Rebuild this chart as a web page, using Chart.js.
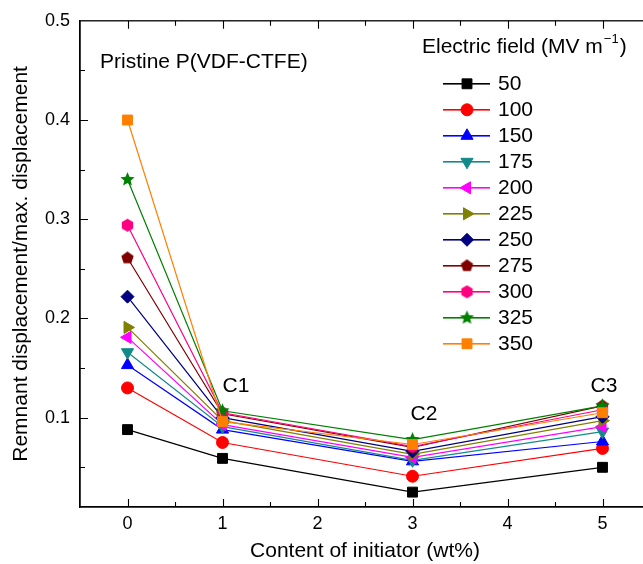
<!DOCTYPE html>
<html>
<head>
<meta charset="utf-8">
<script src="https://cdn.jsdelivr.net/npm/chart.js@4/dist/chart.umd.min.js"></script>
<style>
    html, body { margin: 0; padding: 0; background: #fff; overflow: hidden; }
    #wrap { width: 660px; height: 564px; position: relative; }
</style>
</head>
<body>
<div id="wrap"><canvas id="chart"></canvas></div>
<script>
// initiator content (wt%) and field strengths
const contents = [0, 1, 3, 5];
const fields = ['50', '100', '150', '175', '200', '225', '250', '275', '300', '325', '350'];

// remnant / max displacement, one array per field (MV/m)
const ratio50  = [0.088, 0.059, 0.025, 0.050];
const ratio100 = [0.130, 0.075, 0.041, 0.069];
const ratio150 = [0.153, 0.088, 0.056, 0.076];
const ratio175 = [0.166, 0.091, 0.057, 0.086];
const ratio200 = [0.181, 0.093, 0.060, 0.091];
const ratio225 = [0.191, 0.097, 0.063, 0.097];
const ratio250 = [0.222, 0.100, 0.066, 0.101];
const ratio275 = [0.261, 0.104, 0.070, 0.112];
const ratio300 = [0.294, 0.105, 0.071, 0.108];
const ratio325 = [0.340, 0.107, 0.078, 0.112];
const ratio350 = [0.400, 0.096, 0.073, 0.105];

const xTicks = [0, 1, 2, 3, 4, 5];
const yTicks = [0.1, 0.2, 0.3, 0.4, 0.5];

const FONT = '"Liberation Sans", Arial, Helvetica, sans-serif';
const TEXT = 21;

function makeShape(color, sides, inner, r) {
    const size = Math.ceil(r * 2 + 2);
    const c = document.createElement('canvas');
    c.width = size; c.height = size;
    const g = c.getContext('2d');
    g.fillStyle = color;
    g.beginPath();
    const n = inner ? sides * 2 : sides;
    for (let i = 0; i < n; i++) {
        const a = -Math.PI / 2 + i * 2 * Math.PI / n;
        const rr = inner && i % 2 ? r * inner : r;
        const px = size / 2 + rr * Math.cos(a);
        const py = size / 2 + rr * Math.sin(a);
        if (i === 0) g.moveTo(px, py); else g.lineTo(px, py);
    }
    g.closePath();
    g.fill();
    return c;
}

const styles = [
    { data: ratio50,  color: '#000000', style: 'rect', rot: 0, r: 7 },
    { data: ratio100, color: '#ff0000', style: 'circle', rot: 0, r: 6 },
    { data: ratio150, color: '#0000ff', style: 'triangle', rot: 0, r: 7 },
    { data: ratio175, color: '#138a8a', style: 'triangle', rot: 180, r: 7 },
    { data: ratio200, color: '#ff00ff', style: 'triangle', rot: 270, r: 7 },
    { data: ratio225, color: '#808000', style: 'triangle', rot: 90, r: 7 },
    { data: ratio250, color: '#000080', style: 'rectRot', rot: 0, r: 6.5 },
    { data: ratio275, color: '#800000', style: makeShape('#800000', 5, 0, 6.5), rot: 0, r: 6 },
    { data: ratio300, color: '#ff0080', style: makeShape('#ff0080', 6, 0, 6.5), rot: 0, r: 6 },
    { data: ratio325, color: '#008000', style: makeShape('#008000', 5, 0.45, 7.5), rot: 0, r: 6 },
    { data: ratio350, color: '#ff8000', style: 'rect', rot: 0, r: 7 }
];

const datasets = styles.map((s, i) => ({
    label: fields[i],
    data: contents.map((c, j) => ({ x: c, y: s.data[j] })),
    borderColor: s.color,
    backgroundColor: s.color,
    borderWidth: 1.2,
    pointStyle: s.style,
    pointRotation: s.rot,
    pointRadius: s.r,
    pointBackgroundColor: s.color,
    pointBorderColor: s.color,
    pointBorderWidth: 1,
    tension: 0,
    order: styles.length - i
}));

const framePlugin = {
    id: 'frame',
    afterDraw(chart) {
        const ctx = chart.ctx;
        const a = chart.chartArea;
        const xs = chart.scales.x, ys = chart.scales.y;
        ctx.save();
        ctx.strokeStyle = '#000';
        ctx.lineWidth = 1.3;
        ctx.strokeRect(a.left, a.top, a.right - a.left, a.bottom - a.top);
        ctx.lineWidth = 1.1;
        ctx.beginPath();
        for (let k = 0; k <= 10; k++) {
            const px = Math.round(xs.getPixelForValue(k * 0.5)) + 0.5;
            const len = k % 2 === 0 ? 8 : 5;
            ctx.moveTo(px, a.bottom); ctx.lineTo(px, a.bottom - len);
            ctx.moveTo(px, a.top); ctx.lineTo(px, a.top + len);
        }
        for (let k = 1; k <= 9; k++) {
            const py = Math.round(ys.getPixelForValue(k * 0.05)) + 0.5;
            const len = k % 2 === 0 ? 8 : 5;
            ctx.moveTo(a.left, py); ctx.lineTo(a.left + len, py);
        }
        ctx.stroke();

        // annotations
        ctx.fillStyle = '#000';
        ctx.font = TEXT + 'px ' + FONT;
        ctx.textBaseline = 'middle';
        ctx.textAlign = 'left';
        ctx.fillText('Pristine P(VDF-CTFE)', 100, 62);
        ctx.textAlign = 'center';
        ctx.fillText('C1', 236, 386);
        ctx.fillText('C2', 424, 414);
        ctx.fillText('C3', 604, 386);

        // legend title with superscript
        ctx.textAlign = 'left';
        const t1 = 'Electric field (MV m';
        ctx.fillText(t1, 422, 47);
        const w = ctx.measureText(t1).width;
        ctx.font = '13px ' + FONT;
        ctx.fillText('\u22121', 422 + w + 1, 39);
        const w2 = ctx.measureText('\u22121').width;
        ctx.font = TEXT + 'px ' + FONT;
        ctx.fillText(')', 422 + w + w2 + 2, 47);

        // legend entries
        styles.forEach((s, i) => {
            const y = 83 + i * 26;
            ctx.fillStyle = '#000';
            ctx.fillText(fields[i], 498, y + 1.5);
            ctx.fillStyle = s.color;
            ctx.fillRect(443, y, 47, 1.6);
            ctx.strokeStyle = s.color;
            ctx.lineWidth = 1;
            Chart.helpers.drawPoint(ctx, {
                pointStyle: s.style,
                rotation: s.rot,
                radius: s.r,
                borderWidth: 1
            }, 467, y + 0.8);
        });
        ctx.restore();
    }
};

new Chart(document.getElementById('chart'), {
    type: 'line',
    data: { datasets },
    options: {
        responsive: true,
        maintainAspectRatio: false,
        animation: false,
        layout: { padding: { left: 0, right: 10, top: 20, bottom: 0 } },
        plugins: { legend: { display: false }, tooltip: { enabled: false } },
        scales: {
            x: {
                type: 'linear',
                min: -0.5,
                max: 5.5,
                afterBuildTicks: s => { s.ticks = xTicks.map(v => ({ value: v })); },
                afterFit: s => { s.height = 57; },
                grid: { display: false, drawTicks: false },
                border: { display: true, color: '#000', width: 1.3 },
                ticks: { color: '#000', font: { family: FONT, size: 18 }, padding: 6, maxRotation: 0 },
                title: {
                    display: true,
                    text: 'Content of initiator (wt%)',
                    color: '#000',
                    font: { family: FONT, size: TEXT },
                    padding: { top: 0, bottom: 0 }
                }
            },
            y: {
                type: 'linear',
                min: 0.01,
                max: 0.5,
                afterBuildTicks: s => { s.ticks = yTicks.map(v => ({ value: v })); },
                afterFit: s => { s.width = 80; },
                grid: { display: false, drawTicks: false },
                border: { display: true, color: '#000', width: 1.3 },
                ticks: {
                    color: '#000',
                    font: { family: FONT, size: 18 },
                    padding: 10,
                    callback: v => v.toFixed(1)
                },
                title: {
                    display: true,
                    text: 'Remnant displacement/max. displacement',
                    color: '#000',
                    font: { family: FONT, size: TEXT },
                    padding: { top: 9, bottom: 0 }
                }
            }
        }
    },
    plugins: [framePlugin]
});
</script>
</body>
</html>
